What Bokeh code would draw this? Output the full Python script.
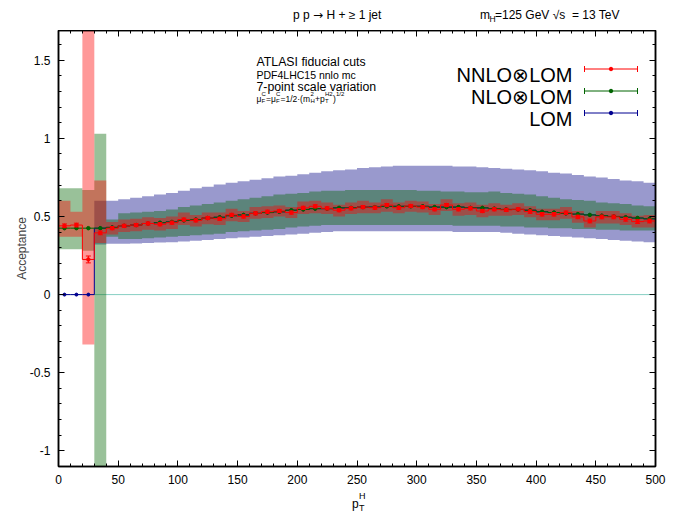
from bokeh.plotting import figure
from bokeh.layouts import column
from bokeh.models import (Range1d, FixedTicker, NumeralTickFormatter, LinearAxis,
                          Label, Span, CustomJSTickFormatter, Div)
from bokeh.embed import file_html
from bokeh.resources import INLINE

FONT = "Liberation Sans"

# ---------------- data (bins of 10 GeV) ----------------
bin_low = list(range(0, 500, 10))
bin_high = list(range(10, 510, 10))

nnlo = [0.44, 0.445, 0.225, 0.395, 0.425, 0.44, 0.445, 0.455, 0.45, 0.46,
        0.48, 0.475, 0.49, 0.485, 0.51, 0.50, 0.52, 0.53, 0.535, 0.525,
        0.555, 0.565, 0.552, 0.54, 0.552, 0.56, 0.556, 0.573, 0.556, 0.567,
        0.56, 0.546, 0.573, 0.546, 0.552, 0.535, 0.546, 0.542, 0.546, 0.531,
        0.514, 0.514, 0.524, 0.497, 0.471, 0.497, 0.497, 0.482, 0.467, 0.471]
nnlo_err = [0.012, 0.012, 0.022, 0.012, 0.01, 0.01, 0.01, 0.01, 0.01, 0.01,
            0.01, 0.01, 0.01, 0.01, 0.01, 0.01, 0.01, 0.01, 0.01, 0.01,
            0.01, 0.01, 0.01, 0.01, 0.01, 0.01, 0.01, 0.01, 0.01, 0.01,
            0.01, 0.01, 0.01, 0.01, 0.01, 0.01, 0.01, 0.01, 0.01, 0.011,
            0.011, 0.011, 0.011, 0.011, 0.012, 0.012, 0.012, 0.012, 0.012, 0.012]
nnlo_hi = [0.60, 0.53, 2.0, 0.73, 0.465, 0.48, 0.485, 0.495, 0.49, 0.50,
           0.525, 0.51, 0.525, 0.525, 0.55, 0.535, 0.56, 0.565, 0.57, 0.56,
           0.595, 0.60, 0.59, 0.575, 0.59, 0.60, 0.59, 0.61, 0.59, 0.60,
           0.595, 0.58, 0.61, 0.585, 0.59, 0.575, 0.585, 0.575, 0.585, 0.565,
           0.55, 0.55, 0.56, 0.535, 0.51, 0.535, 0.535, 0.52, 0.505, 0.51]
nnlo_lo = [0.37, 0.37, -0.32, 0.33, 0.385, 0.40, 0.405, 0.415, 0.41, 0.42,
           0.445, 0.435, 0.45, 0.445, 0.47, 0.465, 0.485, 0.49, 0.50, 0.49,
           0.515, 0.52, 0.515, 0.50, 0.515, 0.52, 0.52, 0.53, 0.52, 0.53,
           0.525, 0.51, 0.535, 0.505, 0.51, 0.495, 0.505, 0.505, 0.51, 0.495,
           0.475, 0.475, 0.485, 0.46, 0.43, 0.455, 0.455, 0.445, 0.43, 0.43]

nlo = [0.425, 0.425, 0.425, 0.425, 0.43, 0.44, 0.445, 0.455, 0.46, 0.465,
       0.475, 0.48, 0.49, 0.495, 0.505, 0.51, 0.52, 0.525, 0.53, 0.54,
       0.545, 0.55, 0.55, 0.555, 0.555, 0.56, 0.56, 0.565, 0.565, 0.565,
       0.565, 0.56, 0.56, 0.56, 0.555, 0.555, 0.55, 0.545, 0.545, 0.54,
       0.53, 0.525, 0.52, 0.515, 0.51, 0.505, 0.50, 0.495, 0.49, 0.485]
nlo_lo = [0.29, 0.29, 0.28, -1.5, 0.37, 0.355, 0.355, 0.36, 0.365, 0.37,
          0.375, 0.38, 0.385, 0.39, 0.40, 0.405, 0.41, 0.415, 0.42, 0.43,
          0.435, 0.44, 0.445, 0.445, 0.445, 0.445, 0.445, 0.445, 0.445, 0.445,
          0.445, 0.445, 0.445, 0.44, 0.44, 0.44, 0.44, 0.435, 0.435, 0.43,
          0.43, 0.425, 0.425, 0.42, 0.42, 0.415, 0.415, 0.41, 0.41, 0.41]
nlo_hi = [0.68, 0.68, 0.67, 1.03, 0.48, 0.52, 0.525, 0.53, 0.535, 0.545,
          0.56, 0.57, 0.58, 0.59, 0.60, 0.61, 0.62, 0.63, 0.64, 0.645,
          0.65, 0.66, 0.665, 0.665, 0.67, 0.67, 0.67, 0.67, 0.67, 0.67,
          0.665, 0.665, 0.66, 0.66, 0.655, 0.655, 0.66, 0.65, 0.645, 0.64,
          0.63, 0.62, 0.61, 0.605, 0.60, 0.59, 0.585, 0.58, 0.57, 0.565]

lo = [0.0, 0.0, 0.0, 0.425, 0.43, 0.44, 0.445, 0.455, 0.46, 0.465,
      0.475, 0.48, 0.49, 0.495, 0.505, 0.51, 0.52, 0.525, 0.53, 0.54,
      0.545, 0.55, 0.55, 0.555, 0.555, 0.56, 0.56, 0.565, 0.565, 0.565,
      0.565, 0.56, 0.56, 0.56, 0.555, 0.555, 0.55, 0.545, 0.545, 0.54,
      0.53, 0.525, 0.52, 0.515, 0.51, 0.505, 0.50, 0.495, 0.49, 0.485]
lo_lo = [0.0, 0.0, 0.0, 0.32, 0.325, 0.325, 0.327, 0.33, 0.333, 0.335,
         0.34, 0.345, 0.35, 0.355, 0.36, 0.365, 0.37, 0.375, 0.38, 0.385,
         0.39, 0.395, 0.40, 0.405, 0.405, 0.405, 0.405, 0.405, 0.405, 0.405,
         0.405, 0.405, 0.405, 0.40, 0.40, 0.40, 0.40, 0.395, 0.39, 0.385,
         0.38, 0.375, 0.37, 0.365, 0.36, 0.355, 0.35, 0.345, 0.34, 0.335]
lo_hi = [0.0, 0.0, 0.0, 0.60, 0.60, 0.61, 0.62, 0.63, 0.64, 0.65,
         0.665, 0.68, 0.69, 0.705, 0.715, 0.725, 0.735, 0.745, 0.755, 0.76,
         0.77, 0.78, 0.79, 0.795, 0.80, 0.81, 0.815, 0.82, 0.825, 0.825,
         0.825, 0.825, 0.825, 0.82, 0.82, 0.815, 0.81, 0.805, 0.80, 0.795,
         0.79, 0.78, 0.775, 0.765, 0.755, 0.75, 0.74, 0.73, 0.725, 0.715]

x_ticks = [0, 50, 100, 150, 200, 250, 300, 350, 400, 450, 500]
y_ticks = [-1, -0.5, 0, 0.5, 1, 1.5]
series_names = ["NNLO\u2297LOM", "NLO\u2297LOM", "LOM"]

# ---------------- layout ----------------
W, H = 675, 525
FL, FT, FW, FH = 58, 30, 597, 436
XAX_H = 26
XMIN, XMAX = 0, 500
YMIN, YMAX = -1.1, 1.69

RED, GREEN, BLUE = "#ff0000", "#006400", "#000082"
LINE_GREEN, LINE_BLUE = "#006400", "#000090"

p = figure(frame_width=FW, frame_height=FH,
           min_border_left=FL, min_border_top=0,
           min_border_right=W - FL - FW, min_border_bottom=XAX_H,
           x_range=Range1d(XMIN, XMAX), y_range=Range1d(YMIN, YMAX),
           output_backend="svg", toolbar_location=None)
p.xgrid.visible = False
p.ygrid.visible = False
p.outline_line_color = "black"
p.outline_line_width = 1.5
p.background_fill_color = "white"
p.border_fill_color = "white"


def x_minor():
    return list(range(0, 501, 10))


def y_minor():
    return [round(-1.1 + 0.1 * i, 2) for i in range(29)]


def style_axis(ax, labels=True):
    ax.axis_line_color = "black"
    ax.axis_line_width = 1.5
    ax.major_tick_in = 6
    ax.major_tick_out = 0
    ax.minor_tick_in = 3
    ax.minor_tick_out = 0
    ax.major_tick_line_color = "black"
    ax.minor_tick_line_color = "black"
    ax.major_label_text_font = FONT
    ax.major_label_text_font_size = "12px"
    ax.major_label_text_color = "black"
    ax.major_label_standoff = 8
    if not labels:
        ax.formatter = CustomJSTickFormatter(code="return ''")
        ax.major_label_standoff = 0


xt = FixedTicker(ticks=x_ticks, minor_ticks=x_minor())
yt = FixedTicker(ticks=y_ticks, minor_ticks=y_minor())

p.xaxis.ticker = xt
p.xaxis.formatter = NumeralTickFormatter(format="0")
p.yaxis.ticker = yt
p.yaxis.formatter = NumeralTickFormatter(format="0.[0]")
style_axis(p.xaxis[0])
style_axis(p.yaxis[0])
p.yaxis.axis_label = "Acceptance"
p.yaxis.axis_label_text_font = FONT
p.yaxis.axis_label_text_font_size = "12px"
p.yaxis.axis_label_text_font_style = "normal"
p.yaxis.axis_label_standoff = -2

top_ax = LinearAxis(ticker=xt)
style_axis(top_ax, labels=False)
p.add_layout(top_ax, "above")
right_ax = LinearAxis(ticker=yt)
style_axis(right_ax, labels=False)
p.add_layout(right_ax, "right")

# zero line
p.add_layout(Span(location=0, dimension="width", line_color="#86cfc3",
                  line_width=1, level="underlay"))

# ---------------- bands ----------------
edges = bin_low + [bin_high[-1]]


def ext(v):
    return list(v) + [v[-1]]


p.varea_step(x=edges, y1=ext(lo_lo), y2=ext(lo_hi), step_mode="after",
             fill_color=BLUE, fill_alpha=0.4)
p.varea_step(x=edges, y1=ext(nlo_lo), y2=ext(nlo_hi), step_mode="after",
             fill_color=GREEN, fill_alpha=0.4)
p.varea_step(x=edges, y1=ext(nnlo_lo), y2=ext(nnlo_hi), step_mode="after",
             fill_color=RED, fill_alpha=0.4)

centers = [(a + b) / 2 for a, b in zip(bin_low, bin_high)]

# ---------------- central histograms ----------------
p.step(x=edges, y=ext(lo), mode="after", line_color=LINE_BLUE, line_width=1)
p.scatter(x=centers, y=lo, marker="circle", size=3, color=LINE_BLUE)
p.step(x=edges, y=ext(nlo), mode="after", line_color=LINE_GREEN, line_width=1)
p.scatter(x=centers, y=nlo, marker="circle", size=3.5, color=LINE_GREEN)
p.step(x=edges, y=ext(nnlo), mode="after", line_color=RED, line_width=1)
up = [c + e for c, e in zip(nnlo, nnlo_err)]
dn = [c - e for c, e in zip(nnlo, nnlo_err)]
p.segment(x0=centers, y0=dn, x1=centers, y1=up, line_color=RED, line_width=1)
p.scatter(x=centers, y=up, marker="dash", size=5, line_color=RED, line_width=1)
p.scatter(x=centers, y=dn, marker="dash", size=5, line_color=RED, line_width=1)
p.scatter(x=centers, y=nnlo, marker="circle", size=3.5, color=RED)


# ---------------- texts inside the frame ----------------
def lab(px, py, text, size, align="left", baseline="alphabetic", color="black"):
    # px, py: page pixel position (frame top at FT)
    p.add_layout(Label(x=px - FL, y=(FT + FH) - py, x_units="screen",
                       y_units="screen", text=text, text_font=FONT,
                       text_font_size=f"{size}px", text_align=align,
                       text_baseline=baseline, text_color=color))


lab(256, 61, "ATLASI fiducial cuts", 12.3)
lab(256, 74, "PDF4LHC15 nnlo mc", 10.5)
lab(256, 86.5, "7-point scale variation", 12.3)
lab(256, 98, "\u03bc", 8.5)
lab(261, 93.5, "C", 6)
lab(261, 100.5, "F", 6)
lab(265.5, 98, "=\u03bc", 8.5)
lab(275.5, 93.5, "C", 6)
lab(275.5, 100.5, "F", 6)
lab(280, 98, "=1/2\u00b7(m", 8.5)
lab(310, 93.5, "2", 6)
lab(310, 100.5, "H", 6)
lab(314.5, 98, "+p", 8.5)
lab(324.5, 93.5, "H2", 6)
lab(324.5, 100.5, "T", 6)
lab(332.5, 98, ")", 8.5)
lab(335.5, 93.5, "1/2", 6)

# legend (text left, error-bar sample right)
leg_colors = [RED, LINE_GREEN, LINE_BLUE]
leg_text_y = [74.5, 96.5, 118]
leg_line_y = [68.5, 90.5, 112.5]


def xd(px):
    return XMIN + (px - FL) / FW * (XMAX - XMIN)


def yd(py):
    return YMAX - (py - FT) / FH * (YMAX - YMIN)


for name, col, ty, ly in zip(series_names, leg_colors, leg_text_y, leg_line_y):
    lab(572, ty, name, 20, align="right")
    p.segment(x0=[xd(584)], y0=[yd(ly)], x1=[xd(637)], y1=[yd(ly)],
              line_color=col, line_width=1)
    p.segment(x0=[xd(584), xd(637)], y0=[yd(ly - 3), yd(ly - 3)],
              x1=[xd(584), xd(637)], y1=[yd(ly + 3), yd(ly + 3)],
              line_color=col, line_width=1)
    p.scatter(x=[xd(610.5)], y=[yd(ly)], marker="circle", size=3.5, color=col)


# ---------------- texts outside the frame (HTML strips) ----------------
def span(left, baseline, text, size, y0):
    top = baseline - y0 - 0.85 * size
    return (f'<span style="position:absolute;left:{left}px;top:{top:.1f}px;'
            f'font-size:{size}px;line-height:{size}px;white-space:pre;">{text}</span>')


def strip(pieces, height, y0):
    inner = "".join(span(l, b, t, s, y0) for (l, b, t, s) in pieces)
    html = (f'<div style="position:relative;width:{W}px;height:{height}px;'
            f"font-family:'{FONT}',sans-serif;color:#000;overflow:visible;\">"
            f"{inner}</div>")
    return Div(text=html, width=W, height=height, margin=(0, 0, 0, 0))


ARROW = "<span style=\"font-family:'DejaVu Sans'\">\u2192</span>"
top_pieces = [
    (293, 19, f"p p {ARROW} H + \u2265 1 jet", 12),
    (480, 19, "m", 12),
    (489.5, 22, "H", 8.5),
    (495, 19, "=125 GeV \u221as&nbsp; = 13 TeV", 12),
]
bottom_y0 = FT + FH + XAX_H
bottom_pieces = [
    (352, 508, "p", 12),
    (359, 500, "H", 9),
    (359, 512, "T", 9),
]
top_div = strip(top_pieces, FT, 0)
bottom_div = strip(bottom_pieces, H - bottom_y0, bottom_y0)

layout = column(top_div, p, bottom_div, spacing=0)
open("out.html", "w").write(file_html(layout, INLINE))
